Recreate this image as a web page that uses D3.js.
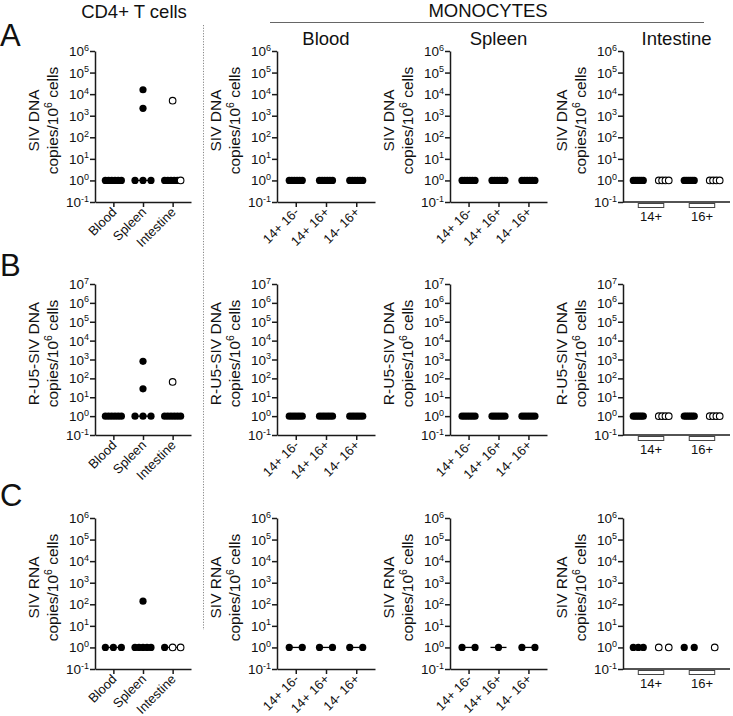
<!DOCTYPE html>
<html><head><meta charset="utf-8">
<script src="https://cdn.jsdelivr.net/npm/d3@7"></script>
<style>body{margin:0;background:#fff}svg{display:block}</style>
</head><body><svg id="c" width="733" height="716"></svg>
<script>
const cd4Categories = ["Blood","Spleen","Intestine"];
const monoCategories = ["14+ 16-","14+ 16+","14- 16+"];
const intestineGroups = ["14+","16+"];
const monoTissues = ["Blood","Spleen","Intestine"];
const rowLetters = ["A","B","C"];
const assayNames = ["SIV DNA","R-U5-SIV DNA","SIV RNA"];
const yMaxExponents = [6,7,6];

// CD4+ T cells (filled / open symbols per category)
const cd4DnaFilled = [[1,1,1,1,1,1],[16000,2200,1,1,1],[1,1,1,1,1]];
const cd4DnaOpen   = [[],[],[5000,1]];
const cd4Ru5Filled = [[1,1,1,1,1,1],[800,28,1,1,1],[1,1,1,1,1,1]];
const cd4Ru5Open   = [[],[],[65]];
const cd4RnaFilled = [[1,1,1],[140,1,1,1,1,1],[1]];
const cd4RnaOpen   = [[],[],[1,1]];

// Monocytes, blood and spleen (per subset)
const monoBloodDna  = [[1,1,1,1,1,1],[1,1,1,1,1,1],[1,1,1,1,1,1]];
const monoSpleenDna = [[1,1,1,1,1,1],[1,1,1,1,1,1],[1,1,1,1,1,1]];
const monoBloodRu5  = [[1,1,1,1,1,1],[1,1,1,1,1,1],[1,1,1,1,1,1]];
const monoSpleenRu5 = [[1,1,1,1,1,1],[1,1,1,1,1,1],[1,1,1,1,1,1]];
const monoBloodRna  = [[1,1],[1,1],[1,1]];
const monoSpleenRna = [[1,1],[1],[1,1]];

// Monocytes, intestine (14+ / 16+ ; filled and open)
const monoIntDnaFilled = [[1,1,1,1,1,1],[1,1,1,1,1,1]];
const monoIntDnaOpen   = [[1,1,1,1],[1,1,1,1]];
const monoIntRu5Filled = [[1,1,1,1,1,1],[1,1,1,1,1,1]];
const monoIntRu5Open   = [[1,1,1,1],[1,1,1,1]];
const monoIntRnaFilled = [[1,1,1],[1,1]];
const monoIntRnaOpen   = [[1,1],[1]];

const FONT = "'Liberation Sans', Arial, Helvetica, sans-serif";
const svg = d3.select("#c").style("font-family", FONT);

const rowTop = [51, 284, 518];
const rowBottom = [202, 435, 669];
const panelX = [[95,191],[277,375],[450,547],[623,730]];

function spreadPoints(list, width, maxSp) {
  const byVal = d3.group(list, d => d.v);
  const out = [];
  for (const [v, pts] of byVal) {
    const n = pts.length;
    const sp = n > 1 ? Math.min(maxSp, width / (n - 1)) : 0;
    pts.forEach((p, i) => out.push({...p, dx: (i - (n - 1) / 2) * sp}));
  }
  return out;
}

function yAxisLabel(g, x0, top, bottom, assay) {
  const cy = (top + bottom) / 2 - 6;
  g.append("text").attr("transform", `translate(${x0-56},${cy}) rotate(-90)`)
    .attr("text-anchor","middle").attr("font-size",15.5).attr("fill","#111").text(assay);
  const t2 = g.append("text").attr("transform", `translate(${x0-37},${cy}) rotate(-90)`)
    .attr("text-anchor","middle").attr("font-size",15.5).attr("fill","#111");
  t2.append("tspan").text("copies/10");
  t2.append("tspan").attr("dy",-6).attr("font-size",10.5).text("6");
  t2.append("tspan").attr("dy",6).text(" cells");
}

function drawYAxis(g, x0, y, maxExp) {
  const decs = d3.range(-1, maxExp + 1).map(e => Math.pow(10, e));
  g.append("g").attr("transform", `translate(${x0},0)`)
    .call(d3.axisLeft(y).tickValues(decs).tickSize(5).tickSizeOuter(0).tickFormat(""))
    .call(a => a.selectAll("path,line").attr("stroke","#1a1a1a").attr("stroke-width",1.5));
  decs.forEach(v => {
    const e = Math.round(Math.log10(v));
    const t = g.append("text").attr("text-anchor","end").attr("x", x0 - 6).attr("y", y(v) + 5)
      .attr("font-size", 13.5).attr("fill","#111");
    t.append("tspan").text("10");
    t.append("tspan").attr("dy", -5.5).attr("font-size", 9).text(String(e));
  });
}

function drawDots(g, pts, xc, y) {
  g.selectAll(null).data(pts.filter(p => !p.open)).join("circle")
    .attr("cx", p => xc(p) + p.dx).attr("cy", p => y(p.v)).attr("r", 3.6).attr("fill","#000");
  g.selectAll(null).data(pts.filter(p => p.open)).join("circle")
    .attr("cx", p => xc(p) + p.dx).attr("cy", p => y(p.v)).attr("r", 3.3)
    .attr("fill","#fff").attr("stroke","#000").attr("stroke-width",1.1);
}

function drawStandardPanel(row, pIdx, cats, filled, open, width) {
  const [x0, x1] = panelX[pIdx];
  const top = rowTop[row], bottom = rowBottom[row];
  const g = svg.append("g");
  const y = d3.scaleLog().domain([0.1, Math.pow(10, yMaxExponents[row])]).range([bottom, top]);
  const x = d3.scalePoint().domain(cats).range([x0, x1]).padding(0.62);
  drawYAxis(g, x0, y, yMaxExponents[row]);
  g.append("g").attr("transform", `translate(0,${bottom})`)
    .call(d3.axisBottom(x).tickSize(5).tickSizeOuter(0).tickFormat(""))
    .call(a => a.selectAll("path,line").attr("stroke","#1a1a1a").attr("stroke-width",1.5));
  cats.forEach(c => {
    g.append("text").attr("transform", `translate(${x(c)+4},${bottom + 11}) rotate(-45)`)
      .attr("text-anchor","end").attr("font-size", 13).attr("fill","#111").text(c);
  });
  cats.forEach((c, i) => {
    const vals = filled[i].concat(open ? open[i] : []);
    const med = d3.median(vals);
    g.append("line").attr("x1", x(c) - 8).attr("x2", x(c) + 8)
      .attr("y1", y(med)).attr("y2", y(med)).attr("stroke","#000").attr("stroke-width",1.3);
  });
  let pts = [];
  cats.forEach((c, i) => {
    const list = filled[i].map(v => ({v, open:false, cat:c}))
      .concat((open ? open[i] : []).map(v => ({v, open:true, cat:c})));
    pts = pts.concat(spreadPoints(list, width, 13));
  });
  drawDots(g, pts, p => x(p.cat), y);
  yAxisLabel(g, x0, top, bottom, assayNames[row]);
}

function drawIntestinePanel(row, filled, open) {
  const [x0, x1] = panelX[3];
  const top = rowTop[row], bottom = rowBottom[row];
  const g = svg.append("g");
  const y = d3.scaleLog().domain([0.1, Math.pow(10, yMaxExponents[row])]).range([bottom, top]);
  const sub = [];
  intestineGroups.forEach(gr => { sub.push(gr + " f"); sub.push(gr + " o"); });
  const x = d3.scalePoint().domain(sub).range([x0, x1]).padding(0.6);
  drawYAxis(g, x0, y, yMaxExponents[row]);
  g.append("line").attr("x1", x0).attr("x2", x1).attr("y1", bottom).attr("y2", bottom)
    .attr("stroke","#1a1a1a").attr("stroke-width",1.5);
  intestineGroups.forEach(gr => {
    const a = x(gr + " f"), b = x(gr + " o");
    g.append("rect").attr("x", a).attr("y", bottom + 1.5).attr("width", b - a).attr("height", 4)
      .attr("fill","#fff").attr("stroke","#444").attr("stroke-width",1);
    g.append("text").attr("x", (a + b) / 2).attr("y", bottom + 19).attr("text-anchor","middle")
      .attr("font-size", 13).attr("fill","#111").text(gr);
  });
  let pts = [];
  intestineGroups.forEach((gr, i) => {
    pts = pts.concat(spreadPoints(filled[i].map(v => ({v, open:false, cat:gr + " f"})), 10, 10.5));
    pts = pts.concat(spreadPoints(open[i].map(v => ({v, open:true, cat:gr + " o"})), 10, 10.5));
  });
  drawDots(g, pts, p => x(p.cat), y);
  yAxisLabel(g, x0, top, bottom, assayNames[row]);
}

const cd4F = [cd4DnaFilled, cd4Ru5Filled, cd4RnaFilled];
const cd4O = [cd4DnaOpen, cd4Ru5Open, cd4RnaOpen];
const monoB = [monoBloodDna, monoBloodRu5, monoBloodRna];
const monoS = [monoSpleenDna, monoSpleenRu5, monoSpleenRna];
const monoIF = [monoIntDnaFilled, monoIntRu5Filled, monoIntRnaFilled];
const monoIO = [monoIntDnaOpen, monoIntRu5Open, monoIntRnaOpen];

for (let r = 0; r < 3; r++) {
  drawStandardPanel(r, 0, cd4Categories, cd4F[r], cd4O[r], 16);
  drawStandardPanel(r, 1, monoCategories, monoB[r], null, 13);
  drawStandardPanel(r, 2, monoCategories, monoS[r], null, 13);
  drawIntestinePanel(r, monoIF[r], monoIO[r]);
}

svg.append("text").attr("x", 134).attr("y", 18).attr("text-anchor","middle")
  .attr("font-size", 18.5).attr("fill","#111").text("CD4+ T cells");
svg.append("text").attr("x", 488).attr("y", 17).attr("text-anchor","middle")
  .attr("font-size", 18.5).attr("fill","#111").text("MONOCYTES");
svg.append("line").attr("x1", 270).attr("x2", 704).attr("y1", 22.5).attr("y2", 22.5)
  .attr("stroke","#666").attr("stroke-width",1);
monoTissues.forEach((t, i) => {
  const [a, b] = panelX[i + 1];
  svg.append("text").attr("x", (a + b) / 2).attr("y", 45).attr("text-anchor","middle")
    .attr("font-size", 18.5).attr("fill","#111").text(t);
});
svg.append("line").attr("x1", 203.5).attr("x2", 203.5).attr("y1", 25).attr("y2", 630)
  .attr("stroke","#888").attr("stroke-width",1).attr("stroke-dasharray","1.2,1.5");
const letterY = [46, 276, 506];
rowLetters.forEach((l, i) => {
  svg.append("text").attr("x", 0).attr("y", letterY[i]).attr("font-size", 31)
    .attr("fill","#111").text(l);
});
</script></body></html>
